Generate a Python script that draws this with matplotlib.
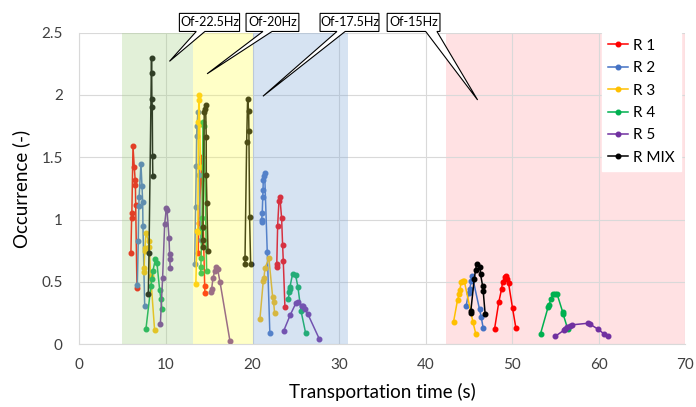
import numpy as np
import matplotlib
matplotlib.use("Agg")
import matplotlib.pyplot as plt
from matplotlib.patches import Polygon
from matplotlib.lines import Line2D

nan = np.nan

# Occurrence curves per run; NaN separates the bursts at each frequency
r1_time = [5.95, 6.03, 6.06, 6.19, 6.34, 6.44, 6.47, 6.50, 6.65, nan,
           13.73, 13.77, 14.04, 14.12, 14.47, 14.50, nan,
           22.78, 22.80, 22.90, 23.05, 23.16, 23.36, 23.47, 23.55, 23.74, nan,
           47.95, 48.45, 48.76, 48.88, 49.15, 49.30, 49.41, 49.57, 50.03, 50.42]
r1_occ = [0.73, 1.01, 1.05, 1.59, 1.42, 1.32, 1.28, 1.12, 0.45, nan,
          0.73, 0.975, 1.32, 1.50, 0.47, 0.41, nan,
          0.62, 0.645, 0.95, 1.15, 1.18, 1.01, 0.80, 0.67, 0.30, nan,
          0.12, 0.34, 0.44, 0.50, 0.54, 0.55, 0.52, 0.49, 0.29, 0.13]

r2_time = [6.69, 6.80, 6.86, 6.90, 7.11, 7.23, 7.31, 7.34, 7.54, nan,
           13.31, 13.42, 13.50, 13.54, 13.58, 13.69, 13.85, 14.00, nan,
           21.05, 21.06, 21.12, 21.18, 21.21, 21.24, 21.32, 21.40, 21.70, 22.00, nan,
           44.68, 44.95, 45.10, 45.25, 45.37, 46.22, 46.41, 46.64]
r2_occ = [0.475, 0.83, 1.11, 1.18, 1.45, 1.27, 1.14, 0.95, 0.31, nan,
          0.64, 1.10, 1.43, 1.67, 1.75, 1.86, 1.36, 0.84, nan,
          0.98, 1.00, 1.055, 1.18, 1.24, 1.32, 1.35, 1.37, 0.74, 0.09, nan,
          0.31, 0.41, 0.445, 0.505, 0.55, 0.28, 0.22, 0.13]

r3_time = [7.46, 7.48, 7.54, 7.56, 7.69, 8.00, 8.07, 8.23, 8.69, nan,
           13.45, 13.60, 13.68, 13.75, 13.80, 13.83, 13.90, 14.00, nan,
           20.85, 21.24, 21.32, 21.43, 21.89, 22.32, 22.43, 22.55, nan,
           43.22, 43.68, 43.87, 43.95, 44.10, 44.30, 44.45, 45.45, 45.80]
r3_occ = [0.58, 0.61, 0.75, 0.77, 0.89, 0.83, 0.78, 0.55, 0.11, nan,
          0.48, 0.91, 0.90, 1.78, 2.00, 1.96, 1.77, 1.42, nan,
          0.20, 0.51, 0.53, 0.61, 0.69, 0.38, 0.34, 0.25, nan,
          0.18, 0.355, 0.40, 0.435, 0.50, 0.51, 0.51, 0.18, 0.08]

r4_time = [7.69, 8.27, 8.35, 8.50, 8.77, 8.96, 9.27, 9.42, 9.54, nan,
           14.00, 14.03, 14.06, 14.12, 14.17, 14.27, 14.39, 14.70, nan,
           24.13, 24.24, 24.28, 24.32, 24.63, 24.97, 25.24, 25.59, 26.13, nan,
           53.27, 54.15, 54.23, 54.50, 54.69, 54.96, 55.19, 55.84, 55.88, 56.42]
r4_occ = [0.125, 0.47, 0.52, 0.59, 0.68, 0.65, 0.435, 0.36, 0.28, nan,
          0.575, 0.62, 0.69, 0.93, 1.01, 1.78, 1.75, 0.585, nan,
          0.36, 0.42, 0.44, 0.46, 0.565, 0.555, 0.46, 0.27, 0.09, nan,
          0.085, 0.30, 0.315, 0.365, 0.40, 0.40, 0.40, 0.255, 0.24, 0.12]

r5_time = [9.35, 9.61, 9.85, 10.04, 10.12, 10.35, 10.42, 10.44, 10.50, nan,
           15.20, 15.27, 15.43, 15.62, 15.77, 15.97, 16.24, 17.39, nan,
           23.59, 24.35, 25.01, 25.28, 25.74, 25.85, 26.08, 26.40, 27.70, nan,
           54.96, 55.92, 56.10, 56.38, 56.69, 56.85, 58.73, 59.00, 59.92, 60.61, 61.07]
r5_occ = [0.16, 0.53, 0.965, 1.09, 1.08, 0.855, 0.72, 0.68, 0.61, nan,
          0.42, 0.44, 0.53, 0.585, 0.62, 0.60, 0.50, 0.026, nan,
          0.106, 0.234, 0.33, 0.34, 0.31, 0.31, 0.28, 0.24, 0.044, nan,
          0.063, 0.11, 0.12, 0.135, 0.15, 0.155, 0.168, 0.16, 0.12, 0.082, 0.063]

mix_time = [7.96, 8.04, 8.33, 8.35, 8.37, 8.42, 8.45, 8.48, nan,
            14.23, 14.24, 14.27, 14.42, 14.54, 14.58, 14.65, 14.66, 14.73, 14.85, nan,
            19.12, 19.13, 19.32, 19.43, 19.55, 19.58, 19.66, 19.78, nan,
            45.18, 45.22, 45.60, 45.76, 45.88, 46.26, 46.34, 46.57, 46.64, 46.87]
mix_occ = [0.40, 0.73, 2.30, 2.18, 1.97, 1.90, 1.51, 1.35, nan,
           0.78, 0.84, 0.94, 1.86, 1.885, 1.92, 1.66, 1.36, 1.13, 0.75, nan,
           0.64, 0.69, 1.62, 1.97, 1.87, 1.71, 1.02, 0.64, nan,
           0.25, 0.27, 0.52, 0.595, 0.64, 0.62, 0.56, 0.47, 0.43, 0.24]

run_labels = ["R 1", "R 2", "R 3", "R 4", "R 5", "R MIX"]
run_times = [r1_time, r2_time, r3_time, r4_time, r5_time, mix_time]
run_occ = [r1_occ, r2_occ, r3_occ, r4_occ, r5_occ, mix_occ]
run_colors = ["#FF0000", "#4472C4", "#FFC000", "#00B050", "#7030A0", "#000000"]

# Frequency windows (time ranges) and their annotations
band_labels = ["Of-22.5Hz", "Of-20Hz", "Of-17.5Hz", "Of-15Hz"]
band_start = [4.9, 13.1, 20.0, 42.3]
band_end = [13.1, 20.0, 31.0, 70.0]
band_colors = ["#A2D080", "#FFFF48", "#7AA5D7", "#FFE1E3"]
band_pointer = [(10.4, 2.27), (14.75, 2.17), (21.2, 1.99), (46.0, 1.96)]
box_left = [11.55, 19.25, 27.8, 35.55]
box_right = [18.5, 25.35, 34.6, 41.65]
wedge_base = [(13.5, 14.5), (21.2, 22.25), (29.75, 30.7), (40.0, 41.3)]

plt.rcParams["font.family"] = ["Lato", "DejaVu Sans"]

fig = plt.figure(figsize=(6.96, 4.07), dpi=100)
ax = fig.add_axes([79.4 / 696, (407 - 344.2) / 407, 606 / 696, 311.5 / 407])

for i in range(4):
    if i < 3:
        ax.axvspan(band_start[i], band_end[i], color=band_colors[i], alpha=0.3,
                   lw=0, zorder=3)
    else:
        ax.axvspan(band_start[i], band_end[i], color=band_colors[i], lw=0, zorder=0.2)

for lab, t, o, c in zip(run_labels, run_times, run_occ, run_colors):
    ax.plot(t, o, color=c, lw=1.1, marker="o", ms=3.3, mec=c, mfc=c, zorder=2)

ax.set_xlim(0, 70)
ax.set_ylim(0, 2.5)
ax.set_xticks(np.arange(0, 71, 10))
ax.set_yticks([0, 0.5, 1, 1.5, 2, 2.5])
ax.set_yticklabels(["0", "0.5", "1", "1.5", "2", "2.5"])
ax.grid(True, color="#D9D9D9", lw=0.8)
ax.set_axisbelow(True)
for s in ["top", "right"]:
    ax.spines[s].set_visible(False)
for s in ["left", "bottom"]:
    ax.spines[s].set_color("#D9D9D9")
    ax.spines[s].set_linewidth(0.8)
ax.tick_params(length=0, labelsize=11, colors="#404040", pad=10)
ax.tick_params(axis="y", pad=12)
ax.set_xlabel("Transportation time (s)", fontsize=13.5, color="#000000", labelpad=8)
ax.set_ylabel("Occurrence (-)", fontsize=13.5, color="#000000", labelpad=8)

handles = [Line2D([0], [0], color=c, lw=1.1, marker="o", ms=3.3) for c in run_colors]
leg = ax.legend(handles, run_labels, loc="upper right", bbox_to_anchor=(0.992, 1.0),
                frameon=True, fontsize=11, handlelength=1.3, handletextpad=0.3,
                labelspacing=0.55, borderpad=0.4, borderaxespad=0.0, fancybox=False)
leg.get_frame().set_edgecolor("white")
leg.get_frame().set_facecolor("white")
leg.get_frame().set_alpha(1)
leg.set_zorder(5)

# Callout boxes with pointers into the frequency windows
box_bottom, box_top = 2.51, 2.655
for lab, tip, xl, xr, (b0, b1) in zip(band_labels, band_pointer, box_left, box_right, wedge_base):
    pts = [(xl, box_top), (xr, box_top), (xr, box_bottom), (b1, box_bottom),
           tip, (b0, box_bottom), (xl, box_bottom)]
    ax.add_patch(Polygon(pts, closed=True, facecolor="white", edgecolor="black",
                         lw=0.8, clip_on=False, zorder=6))
    ax.text((xl + xr) / 2, (box_bottom + box_top) / 2, lab, ha="center", va="center",
            fontsize=9, color="#000000", zorder=7, clip_on=False)

fig.savefig("out.png", dpi=100)
